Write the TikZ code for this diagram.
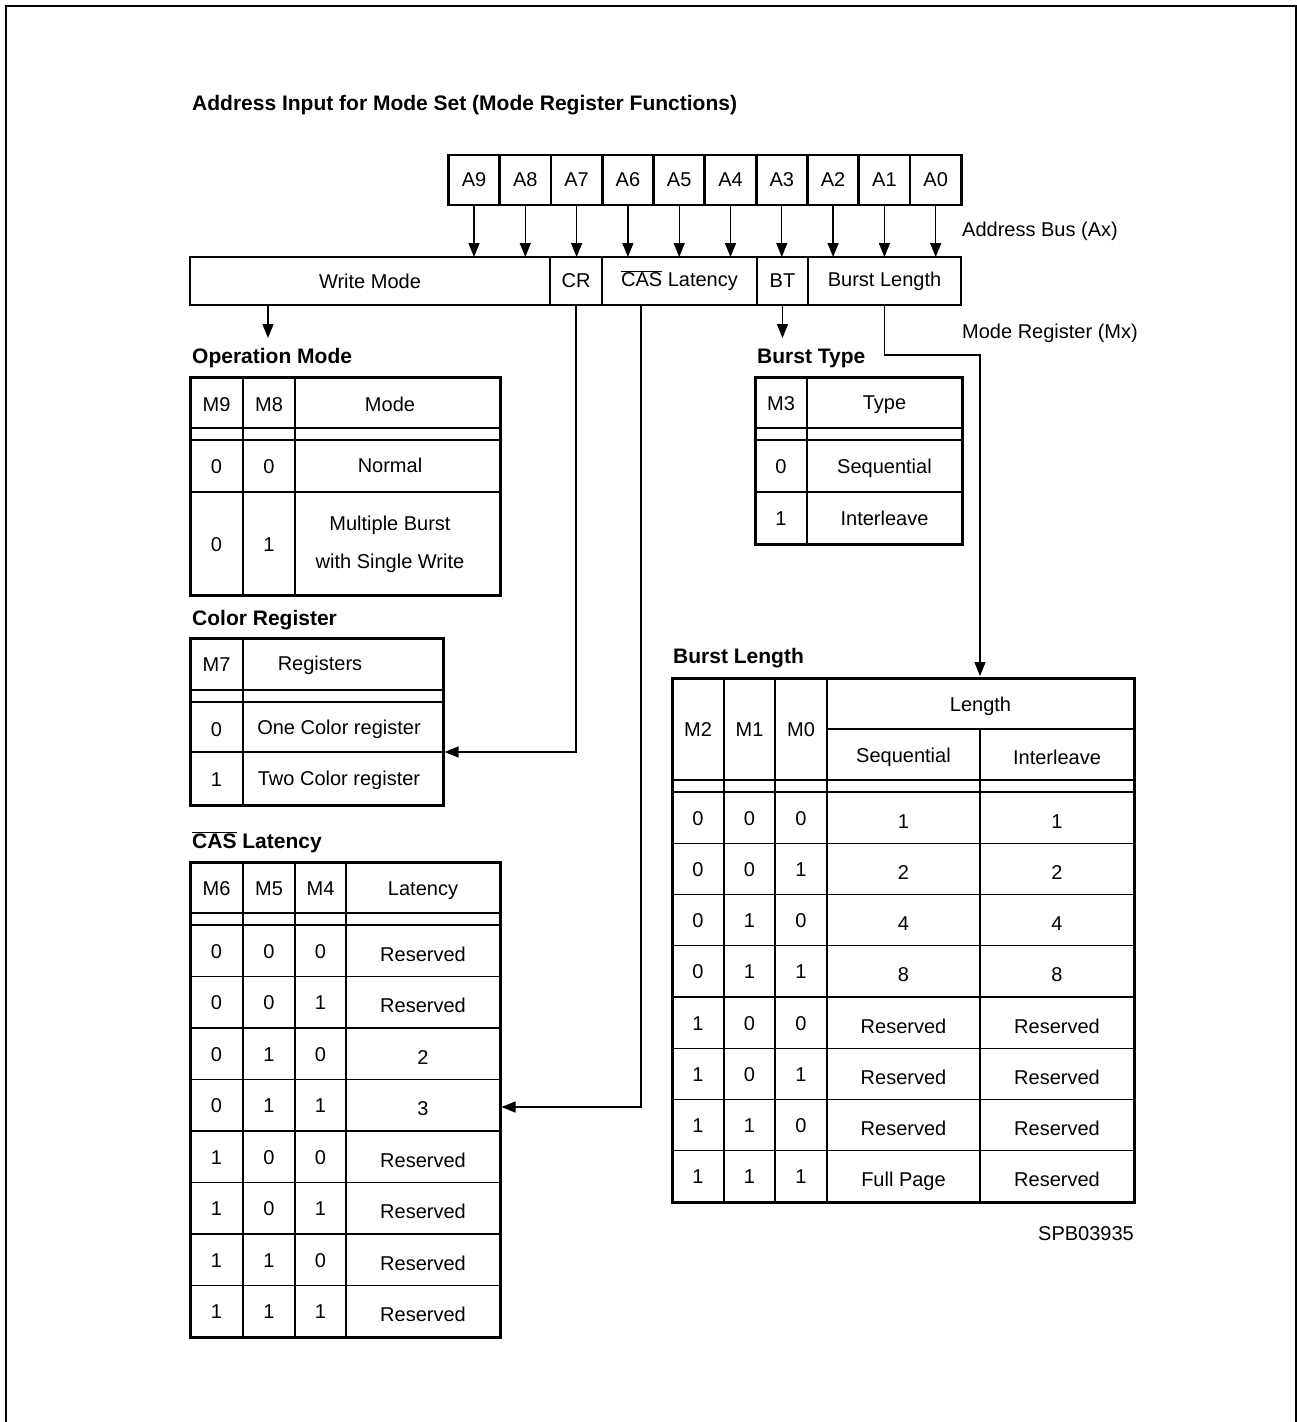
\documentclass[tikz,border=0pt]{standalone}
\usepackage{fontspec}
\setmainfont{Liberation Sans}
\usetikzlibrary{arrows.meta,positioning,calc}
\newcommand{\barsig}[1]{\ensuremath{\overline{\hbox{#1}}}}

\tikzset{
  cell/.style={inner sep=0pt,text height=14.3pt,text depth=0pt},
  ttitle/.style={cell,anchor=west,font=\bfseries\fontsize{21}{25}\selectfont},
  bitbox/.style={draw,line width=2.8pt,outer sep=0pt,inner sep=0pt,minimum width=51.3pt,minimum height=50pt},
  field/.style={draw,line width=2.6pt,outer sep=0pt,inner sep=0pt,minimum height=48pt},
  tframe/.style={draw,line width=3pt,outer sep=0pt,inner sep=0pt,anchor=north west},
  tgrid/.style={line width=1.3pt},
  wire/.style={line width=1.3pt,-{Triangle[length=14pt,width=11pt]}},
}

\begin{document}
\begin{tikzpicture}[x=1pt,y=-1pt,font=\fontsize{20}{24}\selectfont]
  \useasboundingbox (0,0) rectangle (1297,1422);
  % page frame, open at the bottom
  \draw[line width=2pt] (6,1430) -- (6,6) -- (1296,6) -- (1296,1430);
  \node[ttitle] (title) at (192,103) {Address Input for Mode Set (Mode Register Functions)};

  % address bus bits
  \foreach \i [count=\k from 0] in {9,...,0}
    \node[bitbox] (a\i) at ({474+\k*51.3},180) {A\i};
  % mode register fields
  \node[field,minimum width=360pt,anchor=west] (wm) at (190,281) {Write Mode};
  \node[field,minimum width=52pt,right=0pt of wm] (cr) {CR};
  \node[field,minimum width=155pt,right=0pt of cr] (cas) {\barsig{CAS} Latency};
  \node[field,minimum width=51pt,right=0pt of cas] (bt) {BT};
  \node[field,minimum width=153pt,right=0pt of bt] (bl) {Burst Length};
  \foreach \i in {9,...,0}
    \draw[wire] (a\i) -- (a\i |- wm.north);
  \node[cell,anchor=west] (busl) at (962,229) {Address Bus (Ax)};
  \node[cell,anchor=west] (regl) at (962,331) {Mode Register (Mx)};

  % operation mode table
  \node[ttitle] (opmtitle) at (192,356) {Operation Mode};
  \draw[tgrid] (243,377) -- (243,595) (295,377) -- (295,595);
  \foreach \yy in {428,440,492} \draw[tgrid] (190,\yy) -- (500,\yy);
  \node[tframe,minimum width=310pt,minimum height=218pt] (opm) at (190,377) {};
  \node[cell] (opm-h1) at (216.5,404) {M9};
  \node[cell] (opm-h2) at (269,404) {M8};
  \node[cell] (opm-h3) at (390,404) {Mode};
  \node[cell] (opm-a1) at (216.5,466) {0};
  \node[cell] (opm-a2) at (269,466) {0};
  \node[cell] (opm-a3) at (390,465) {Normal};
  \node[cell] (opm-b1) at (216.5,544) {0};
  \node[cell] (opm-b2) at (269,544) {1};
  \node[cell] (opm-b3) at (390,523) {Multiple Burst};
  \node[cell] (opm-b4) at (390,561) {with Single Write};

  % burst type table
  \node[ttitle] (bttitle) at (757,356) {Burst Type};
  \draw[tgrid] (807,377) -- (807,544);
  \foreach \yy in {428,440,492} \draw[tgrid] (755,\yy) -- (962,\yy);
  \node[tframe,minimum width=207pt,minimum height=167pt] (btt) at (755,377) {};
  \node[cell] (btt-h1) at (781,403) {M3};
  \node[cell] (btt-h2) at (884.5,402) {Type};
  \node[cell] (btt-a1) at (781,466) {0};
  \node[cell] (btt-a2) at (884.5,466) {Sequential};
  \node[cell] (btt-b1) at (781,518) {1};
  \node[cell] (btt-b2) at (884.5,518) {Interleave};

  % color register table
  \node[ttitle] (crttitle) at (192,618) {Color Register};
  \draw[tgrid] (243,638) -- (243,805);
  \foreach \yy in {690,702,752} \draw[tgrid] (190,\yy) -- (443,\yy);
  \node[tframe,minimum width=253pt,minimum height=167pt] (crt) at (190,638) {};
  \node[cell] (crt-h1) at (216.5,664) {M7};
  \node[cell] (crt-h2) at (320,663) {Registers};
  \node[cell] (crt-a1) at (216.5,729) {0};
  \node[cell] (crt-a2) at (339,727) {One Color register};
  \node[cell] (crt-b1) at (216.5,779) {1};
  \node[cell] (crt-b2) at (339,778) {Two Color register};

  % CAS latency table
  \node[ttitle] (lattitle) at (192,841) {\barsig{CAS} Latency};
  \foreach \xx in {243,295,346} \draw[tgrid] (\xx,862) -- (\xx,1337);
  \draw[tgrid] (190,913) -- (500,913);
  \foreach \k in {0,...,7} \draw[tgrid] (190,{925+\k*51.5}) -- (500,{925+\k*51.5});
  \node[tframe,minimum width=310pt,minimum height=475pt] (lat) at (190,862) {};
  \node[cell] (lat-h1) at (216.5,888) {M6};
  \node[cell] (lat-h2) at (269,888) {M5};
  \node[cell] (lat-h3) at (320.5,888) {M4};
  \node[cell] (lat-h4) at (423,888) {Latency};
  \foreach \m/\n/\o/\v [count=\r from 0] in {0/0/0/Reserved,0/0/1/Reserved,0/1/0/2,0/1/1/3,1/0/0/Reserved,1/0/1/Reserved,1/1/0/Reserved,1/1/1/Reserved}{
    \pgfmathsetmacro\yy{951+\r*51.5}
    \node[cell] (lat-\r-a) at (216.5,\yy) {\m};
    \node[cell] (lat-\r-b) at (269,\yy) {\n};
    \node[cell] (lat-\r-c) at (320.5,\yy) {\o};
    \node[cell] (lat-\r-d) at (423,{\yy+3}) {\v};
  }

  % burst length table
  \node[ttitle] (blttitle) at (673,656) {Burst Length};
  \foreach \xx in {724,775,827} \draw[tgrid] (\xx,678) -- (\xx,1202);
  \draw[tgrid] (980,729) -- (980,1202);
  \draw[tgrid] (827,729) -- (1134,729);
  \draw[tgrid] (672,780) -- (1134,780);
  \foreach \k in {0,...,7} \draw[tgrid] (672,{792+\k*51.25}) -- (1134,{792+\k*51.25});
  \node[tframe,minimum width=462pt,minimum height=524pt] (blt) at (672,678) {};
  \node[cell] (blt-h1) at (698,729) {M2};
  \node[cell] (blt-h2) at (749.5,729) {M1};
  \node[cell] (blt-h3) at (801,729) {M0};
  \node[cell] (blt-h4) at (980.5,704) {Length};
  \node[cell] (blt-h5) at (903.5,755) {Sequential};
  \node[cell] (blt-h6) at (1057,757) {Interleave};
  \foreach \m/\n/\o/\s/\v [count=\r from 0] in {0/0/0/1/1,0/0/1/2/2,0/1/0/4/4,0/1/1/8/8,1/0/0/Reserved/Reserved,1/0/1/Reserved/Reserved,1/1/0/Reserved/Reserved,1/1/1/Full Page/Reserved}{
    \pgfmathsetmacro\yy{818+\r*51.25}
    \node[cell] (blt-\r-a) at (698,\yy) {\m};
    \node[cell] (blt-\r-b) at (749.5,\yy) {\n};
    \node[cell] (blt-\r-c) at (801,\yy) {\o};
    \node[cell] (blt-\r-d) at (903.5,{\yy+3}) {\s};
    \node[cell] (blt-\r-e) at (1057,{\yy+3}) {\v};
  }
  \node[cell,anchor=east] (code) at (1134,1233) {SPB03935};

  % fields to their tables
  \coordinate (crin) at (444.5,752);
  \coordinate (latin) at (501.5,1107);
  \coordinate (blin) at (980,676);
  \draw[wire] ([xshift=-102pt]wm.south) -- +(0,33);
  \draw[wire] (cr.south) |- (crin);
  \draw[wire] ([xshift=-38.5pt]cas.south) |- (latin);
  \draw[wire] (bt.south) -- +(0,33);
  \draw[wire] (bl.south) -- +(0,50) -| (blin);
\end{tikzpicture}
\end{document}
